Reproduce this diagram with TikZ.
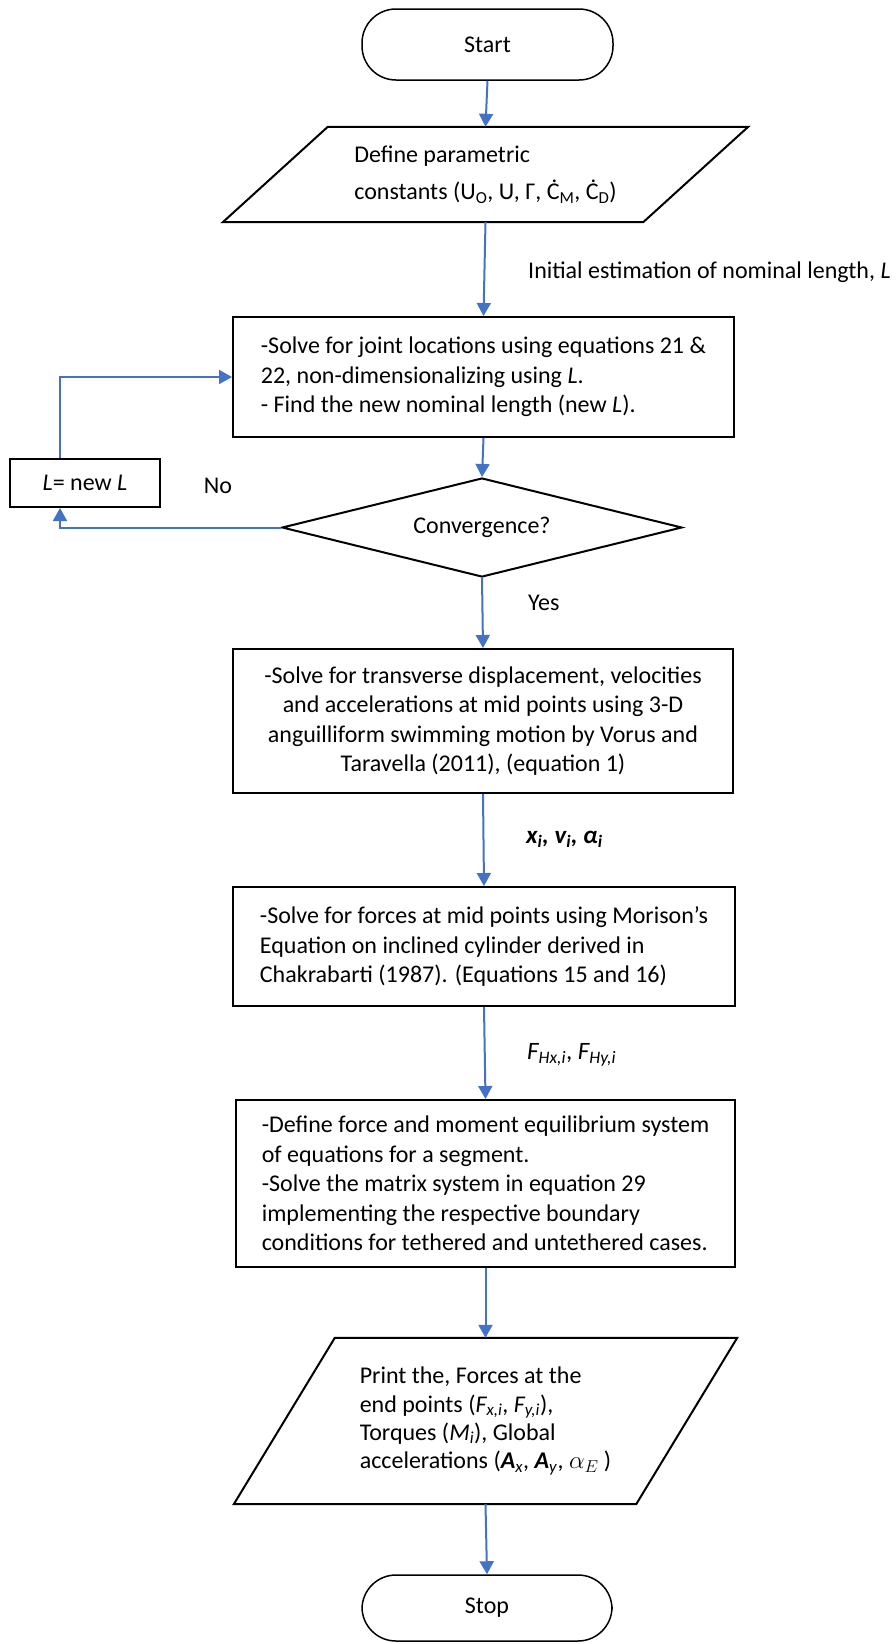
\documentclass[tikz,border=0pt]{standalone}
\usepackage{fontspec}
\setmainfont{Carlito}
\usetikzlibrary{arrows.meta,shapes.geometric,calc}
\definecolor{flowblue}{RGB}{68,114,196}
\tikzset{
  base/.style={font=\fontsize{24}{29.5}\selectfont, inner sep=0pt},
  procbox/.style={base, draw=black, line width=2pt, align=left},
  termbox/.style={base, draw=black, line width=1.5pt, rounded corners=34pt},
  decbox/.style={base, draw=black, line width=2pt, shape=diamond, aspect=4.04},
  iobox/.style={base, align=left},
  flow/.style={draw=flowblue, line width=2pt, -{Triangle[length=13pt,width=14pt]}},
  lbl/.style={base, anchor=west},
  smalllbl/.style={lbl, font=\fontsize{25}{29}\selectfont},
}
\begin{document}
\begin{tikzpicture}[x=1pt,y=-1pt]
\useasboundingbox (0,0) rectangle (896,1644);

\node[termbox, minimum width=251pt, minimum height=71pt] (start) at (487.5,44.5) {Start};

\node[iobox, minimum width=420pt, minimum height=95pt, font=\fontsize{24}{37}\selectfont] (par1) at (485.5,174.5)
  {Define parametric\\constants (U\textsubscript{O}, U, Γ, Ċ\textsubscript{M}, Ċ\textsubscript{D})};
\draw[line width=2pt] ([xshift=-52.5pt]par1.south west) -- ([xshift=-52.5pt]par1.south east)
  -- ([xshift=52.5pt]par1.north east) -- ([xshift=52.5pt]par1.north west) -- cycle;

\node[procbox, minimum width=501pt, minimum height=120pt] (box1) at (483.5,377)
  {-Solve for joint locations using equations 21 \&\\22, non-dimensionalizing using \textit{L}.\\- Find the new nominal length (new \textit{L}).};

\node[decbox, minimum width=400pt, minimum height=99pt] (conv) at (482,527.5) {Convergence?};

\node[procbox, minimum width=150pt, minimum height=48pt, align=center] (lbox) at (85,483) {\textit{L}= new \textit{L}};

\node[procbox, minimum width=500pt, minimum height=144pt, align=center] (box4) at (483,721)
  {-Solve for transverse displacement, velocities\\and accelerations at mid points using 3-D\\anguilliform swimming motion by Vorus and\\Taravella (2011), (equation 1)};

\node[procbox, minimum width=502pt, minimum height=119pt] (box5) at (484,946.5)
  {-Solve for forces at mid points using Morison’s\\Equation on inclined cylinder derived in\\Chakrabarti (1987). (Equations 15 and 16)};

\node[procbox, minimum width=499pt, minimum height=167pt] (box6) at (485.5,1183.5)
  {-Define force and moment equilibrium system\\of equations for a segment.\\-Solve the matrix system in equation 29\\implementing the respective boundary\\conditions for tethered and untethered cases.};

\node[iobox, minimum width=402pt, minimum height=166pt, font=\fontsize{24}{28.2}\selectfont] (par2) at (485.5,1421)
  {Print the, Forces at the\\end points (\textit{F\textsubscript{x,i}}, \textit{F\textsubscript{y,i}}),\\Torques (\textit{M\textsubscript{i}}), Global\\accelerations (\textbf{\textit{A}}\textsubscript{\textit{x}}, \textbf{\textit{A}}\textsubscript{\textit{y}}, $\alpha_E$ )};
\draw[line width=2pt] ([xshift=-50.5pt]par2.south west) -- ([xshift=-50.5pt]par2.south east)
  -- ([xshift=50.5pt]par2.north east) -- ([xshift=50.5pt]par2.north west) -- cycle;

\node[termbox, minimum width=250pt, minimum height=66pt] (stop) at (487,1608) {Stop};

% labels
\node[lbl] (linit) at (528,272) {Initial estimation of nominal length, \textit{L}};
\node[base] (lno) at (218,486) {No};
\node[lbl] (lyes) at (528,603) {Yes};
\node[smalllbl] (lxva) at (526,839) {\textbf{\textit{x\textsubscript{i}, v\textsubscript{i}, α\textsubscript{i}}}};
\node[smalllbl] (lf) at (527,1055) {\textit{F\textsubscript{Hx,i}}, \textit{F\textsubscript{Hy,i}}};

% connectors
\draw[flow] (start.south) -- (par1.north);
\draw[flow] (par1.south) -- (box1.north);
\draw[flow] (box1.south) -- (conv.north);
\draw[flow] (conv.west) -| ([xshift=-25pt]lbox.south);
\draw[flow] ([xshift=-25pt]lbox.north) |- (box1.west);
\draw[flow] (conv.south) -- (box4.north);
\draw[flow] (box4.south) -- (box5.north);
\draw[flow] (box5.south) -- (box6.north);
\draw[flow] (box6.south) -- (par2.north);
\draw[flow] (par2.south) -- (stop.north);
\end{tikzpicture}
\end{document}
